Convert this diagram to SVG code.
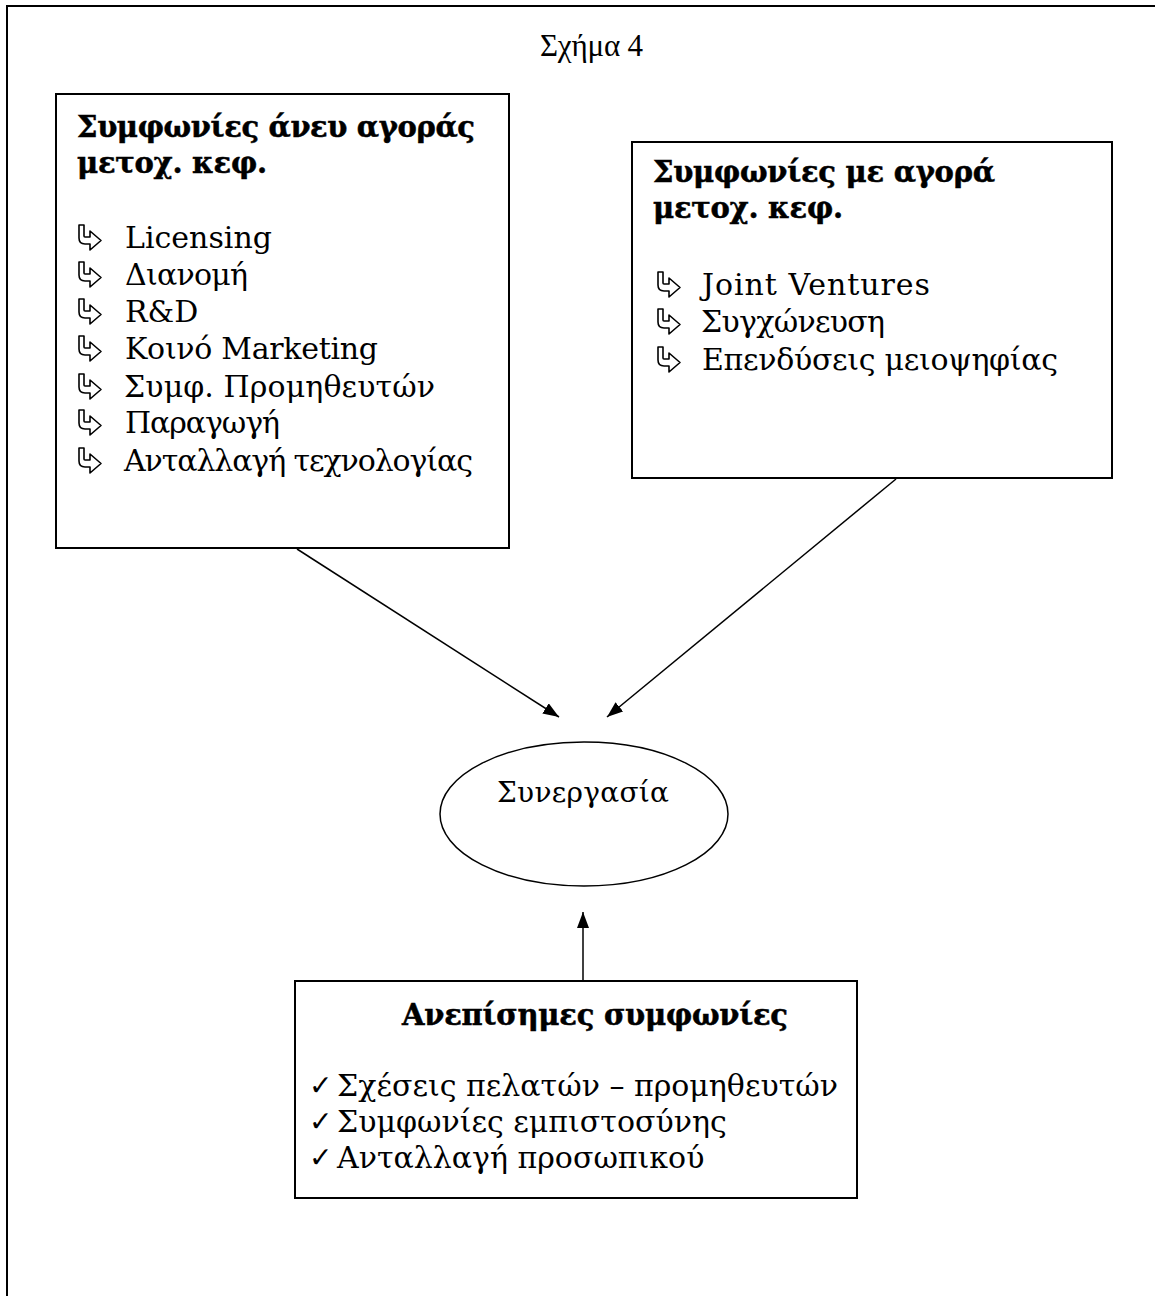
<svg xmlns="http://www.w3.org/2000/svg" xmlns:xlink="http://www.w3.org/1999/xlink" width="1155" height="1296" viewBox="0 0 1155 1296">
<style>
.box{fill:#fff;stroke:#000;stroke-width:2}
.frame{fill:none;stroke:#000;stroke-width:2}
.head{font-family:"DejaVu Serif","Liberation Serif",serif;font-weight:bold;font-size:29px;fill:#000;stroke:#000;stroke-width:0.5}
.item{font-family:"DejaVu Serif","Liberation Serif",serif;font-size:30px;fill:#000}
.item2{font-family:"DejaVu Serif","Liberation Serif",serif;font-size:28px;fill:#000}
.title{font-family:"Liberation Serif",serif;font-size:31px;fill:#000}
.check{font-family:"DejaVu Sans",sans-serif;font-size:28px;fill:#000}
.conn{stroke:#000;stroke-width:1.5;fill:none}
</style>
<defs>
<marker id="ah" viewBox="0 0 16 12" refX="16" refY="6" markerWidth="16" markerHeight="12" markerUnits="userSpaceOnUse" orient="auto">
<path d="M0,0 L16,6 L0,12 Z" fill="#000"/>
</marker>
<symbol id="bul" viewBox="0 0 24 26" width="24" height="26" overflow="visible">
<path d="M1,1 L6,1 L6,12 Q6,13 7,13 L12,13 L12,7 L23,16.5 L12,26 L12,20 L7,20 Q1,20 1,14 Z" fill="#fff" stroke="#000" stroke-width="1.6" stroke-linejoin="round"/>
</symbol>
</defs>
<rect width="1155" height="1296" fill="#fff"/>
<path class="frame" d="M7,1296 L7,6 L1155,6"/>
<text class="title" x="540" y="56" textLength="103">Σχήμα 4</text>
<g id="connectors">
<line class="conn" x1="297" y1="549" x2="559" y2="717" marker-end="url(#ah)"/>
<line class="conn" x1="896" y1="479" x2="607" y2="717" marker-end="url(#ah)"/>
<line class="conn" x1="583" y1="981" x2="583" y2="912" marker-end="url(#ah)"/>
</g>
<g id="node-left">
<rect class="box" x="56" y="94" width="453" height="454"/>
<text class="head" x="77" y="137" textLength="398">Συμφωνίες άνευ αγοράς</text>
<text class="head" x="77" y="173" textLength="190">μετοχ. κεφ.</text>
<use xlink:href="#bul" x="78" y="224"/>
<text class="item" x="125" y="248">Licensing</text>
<use xlink:href="#bul" x="78" y="261"/>
<text class="item" x="125" y="285" textLength="123">Διανομή</text>
<use xlink:href="#bul" x="78" y="298"/>
<text class="item" x="125" y="322">R&amp;D</text>
<use xlink:href="#bul" x="78" y="335"/>
<text class="item" x="125" y="359" textLength="253">Κοινό Marketing</text>
<use xlink:href="#bul" x="78" y="373"/>
<text class="item" x="124" y="397" textLength="311">Συμφ. Προμηθευτών</text>
<use xlink:href="#bul" x="78" y="409"/>
<text class="item" x="125" y="433" textLength="155">Παραγωγή</text>
<use xlink:href="#bul" x="78" y="447"/>
<text class="item" x="124" y="471" textLength="349">Ανταλλαγή τεχνολογίας</text>
</g>
<g id="node-right">
<rect class="box" x="632" y="142" width="480" height="336"/>
<text class="head" x="653" y="182" textLength="342">Συμφωνίες με αγορά</text>
<text class="head" x="653" y="218" textLength="190">μετοχ. κεφ.</text>
<use xlink:href="#bul" x="657" y="271"/>
<text class="item" x="702" y="295" textLength="228">Joint Ventures</text>
<use xlink:href="#bul" x="657" y="308"/>
<text class="item" x="701" y="332" textLength="184">Συγχώνευση</text>
<use xlink:href="#bul" x="657" y="346"/>
<text class="item" x="702" y="370" textLength="356">Επενδύσεις μειοψηφίας</text>
</g>
<g id="node-center">
<ellipse class="box" cx="584" cy="814" rx="144" ry="72" style="stroke-width:1.5"/>
<text class="item2" x="497" y="802" textLength="172">Συνεργασία</text>
</g>
<g id="node-bottom">
<rect class="box" x="295" y="981" width="562" height="217"/>
<text class="head" x="402" y="1025" textLength="386">Ανεπίσημες συμφωνίες</text>
<text class="check" x="309" y="1095">✓</text>
<text class="item" x="337" y="1096">Σχέσεις πελατών – προμηθευτών</text>
<text class="check" x="309" y="1131">✓</text>
<text class="item" x="337" y="1132">Συμφωνίες εμπιστοσύνης</text>
<text class="check" x="309" y="1167">✓</text>
<text class="item" x="337" y="1168">Ανταλλαγή προσωπικού</text>
</g>
</svg>
